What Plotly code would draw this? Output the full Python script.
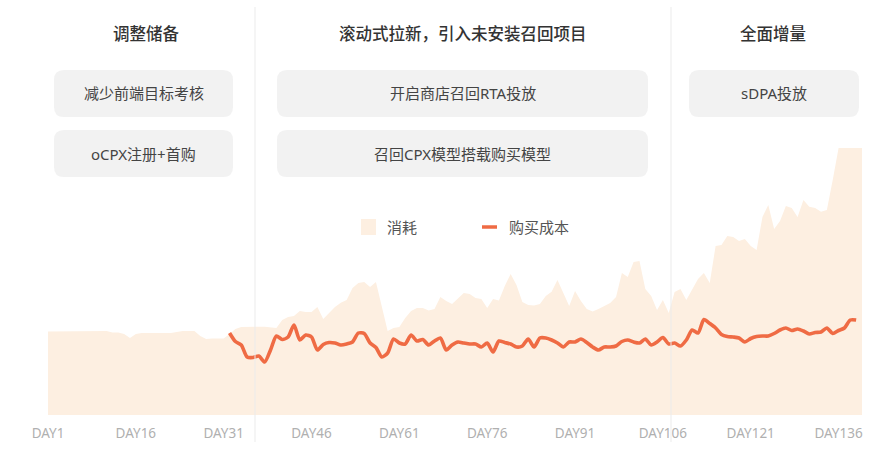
import plotly.graph_objects as go

# ---------------- data ----------------
days = list(range(1, 141))
cost_area = [
    83.5, 83.5, 83.5, 83.5, 84, 84, 84, 84, 84, 84,
    84, 82.5, 82.5, 81, 77, 81, 82, 82, 82, 82,
    82, 82, 83, 84, 84, 84, 79, 76, 76.5, 76.5,
    76.5, 81, 86, 88, 88.3, 88.3, 88.3, 88.3, 88, 87,
    95, 98, 99, 104, 103, 103, 108, 96, 102, 108,
    112.3, 115, 127, 132, 133, 128, 133, 107, 84, 87,
    88, 97, 104, 107, 107, 104.5, 106, 118, 114, 111,
    117, 122, 121, 117, 116, 107, 116, 114.5, 129, 141,
    130, 113, 110, 109.5, 111, 119, 123.3, 135, 122, 109,
    124, 114, 106, 103.5, 106, 109, 112, 118, 142, 138,
    153, 154, 126, 119, 105, 115, 102, 123, 126, 115,
    125, 136, 142, 132, 169, 170, 179, 178, 174, 176,
    169, 165, 198, 210, 186, 194, 209, 207, 198, 215,
    208.3, 207, 203.3, 205, 235, 267, 267, 267, 267, 267,
]
line_days = list(range(32, 140))
purchase_cost = [
    82, 73.5, 70, 58, 57.5, 59, 53, 65, 79, 75.5,
    78, 90, 75, 80, 78, 65, 70.5, 72.5, 72, 70,
    71, 73, 82, 81.5, 72, 67.5, 58, 62, 76, 72,
    71, 80, 74, 75.5, 70, 74, 77, 65, 70, 73,
    72, 71, 71, 68, 72, 63, 74, 72.5, 71, 68,
    69, 76, 68, 77, 77, 75, 72, 68, 73, 73,
    76, 72.5, 68, 65, 68, 68, 69, 73.5, 75, 73,
    72, 76, 70, 73, 77.5, 71, 72, 69, 75, 85,
    82, 95.5, 91.5, 87, 80.5, 78.5, 78, 77, 73, 76.5,
    78.5, 79, 79, 81.5, 85, 87, 84.5, 86, 84, 81,
    82.5, 83, 87, 81.5, 84.5, 87, 95, 95,
]
tick_days = [1, 16, 31, 46, 61, 76, 91, 106, 121, 136]
tick_labels = ["DAY" + str(d) for d in tick_days]
series_names = ["消耗", "购买成本"]
phase_titles = ["调整储备", "滚动式拉新，引入未安装召回项目", "全面增量"]
phase_notes = [
    ["减少前端目标考核", "oCPX注册+首购"],
    ["开启商店召回RTA投放", "召回CPX模型搭载购买模型"],
    ["sDPA投放"],
]

# ---------------- layout helpers (pixel -> paper) ----------------
W, H = 877, 457
ML, MR, MT, MB = 48, 15, 0, 42
PW, PH = W - ML - MR, H - MT - MB

def fx(px):
    return (px - ML) / PW

def fy(py):
    return (H - MB - py) / PH

def rrect(x0, y0, x1, y1, r):
    pts = [
        ("M", [(x0 + r, y0)]),
        ("L", [(x1 - r, y0)]),
        ("Q", [(x1, y0), (x1, y0 + r)]),
        ("L", [(x1, y1 - r)]),
        ("Q", [(x1, y1), (x1 - r, y1)]),
        ("L", [(x0 + r, y1)]),
        ("Q", [(x0, y1), (x0, y1 - r)]),
        ("L", [(x0, y0 + r)]),
        ("Q", [(x0, y0), (x0 + r, y0)]),
    ]
    s = ""
    for cmd, ps in pts:
        s += cmd + " ".join(f"{fx(a):.5f},{fy(b):.5f}" for a, b in ps) + " "
    return s + "Z"

AREA = "#fdefe1"
LINE = "#ef6b44"
FONT = "Noto Sans, Noto Sans CJK SC"

fig = go.Figure()
fig.add_trace(go.Scatter(
    x=days, y=cost_area, name=series_names[0], mode="lines",
    line=dict(width=0, color=AREA), fill="tozeroy", fillcolor=AREA,
    showlegend=False,
))
fig.add_trace(go.Scatter(
    x=line_days, y=purchase_cost, name=series_names[1], mode="lines",
    line=dict(width=3.6, color=LINE, shape="spline", smoothing=0.7),
    showlegend=False,
))

shapes = []
annotations = []

# dividers
for px in [255, 671]:
    shapes.append(dict(type="line", xref="paper", yref="paper",
                       x0=fx(px), x1=fx(px), y0=fy(442), y1=fy(7),
                       line=dict(color="#ebebeb", width=1), layer="above"))

title_cx = [146, 463, 773]
box_x = [(54, 233), (277, 648), (689, 859)]
rows_y = [(70, 117), (130, 177)]
for i, title in enumerate(phase_titles):
    annotations.append(dict(xref="paper", yref="paper", x=fx(title_cx[i]), y=fy(33),
                            text=title, showarrow=False, xanchor="center", yanchor="middle",
                            font=dict(family=FONT, size=16.5, color="#333333", weight=500)))
    for j, note in enumerate(phase_notes[i]):
        x0, x1 = box_x[i]
        y0, y1 = rows_y[j]
        shapes.append(dict(type="path", xref="paper", yref="paper",
                           path=rrect(x0, y0, x1, y1, 10),
                           fillcolor="#f2f2f2", line=dict(width=0), layer="below"))
        annotations.append(dict(xref="paper", yref="paper", x=fx((x0 + x1) / 2),
                                y=fy((y0 + y1) / 2), text=note, showarrow=False,
                                xanchor="center", yanchor="middle",
                                font=dict(family=FONT, size=15, color="#444444")))

# custom legend
shapes.append(dict(type="rect", xref="paper", yref="paper",
                   x0=fx(361), x1=fx(376), y0=fy(235), y1=fy(219),
                   fillcolor=AREA, line=dict(width=0)))
annotations.append(dict(xref="paper", yref="paper", x=fx(385), y=fy(227),
                        text=series_names[0], showarrow=False, xanchor="left", yanchor="middle",
                        font=dict(family=FONT, size=15, color="#555555")))
shapes.append(dict(type="line", xref="paper", yref="paper",
                   x0=fx(482), x1=fx(497), y0=fy(227), y1=fy(227),
                   line=dict(color=LINE, width=3.5)))
annotations.append(dict(xref="paper", yref="paper", x=fx(507), y=fy(227),
                        text=series_names[1], showarrow=False, xanchor="left", yanchor="middle",
                        font=dict(family=FONT, size=15, color="#555555")))

fig.update_layout(
    width=W, height=H,
    margin=dict(l=ML, r=MR, t=MT, b=MB, pad=0),
    paper_bgcolor="white", plot_bgcolor="white",
    shapes=shapes, annotations=annotations,
    showlegend=False,
    xaxis=dict(range=[1, 140], tickvals=tick_days, ticktext=tick_labels,
               showgrid=False, zeroline=False, showline=False, ticks="",
               tickfont=dict(family=FONT, size=13.5, color="#b0b0b0"),
               ticklabelstandoff=8, fixedrange=True),
    yaxis=dict(range=[0, PH], visible=False, fixedrange=True),
)

fig.write_html("out.html", config={"displayModeBar": False},
               post_script="document.body.style.margin='0';document.body.style.overflow='hidden';")
